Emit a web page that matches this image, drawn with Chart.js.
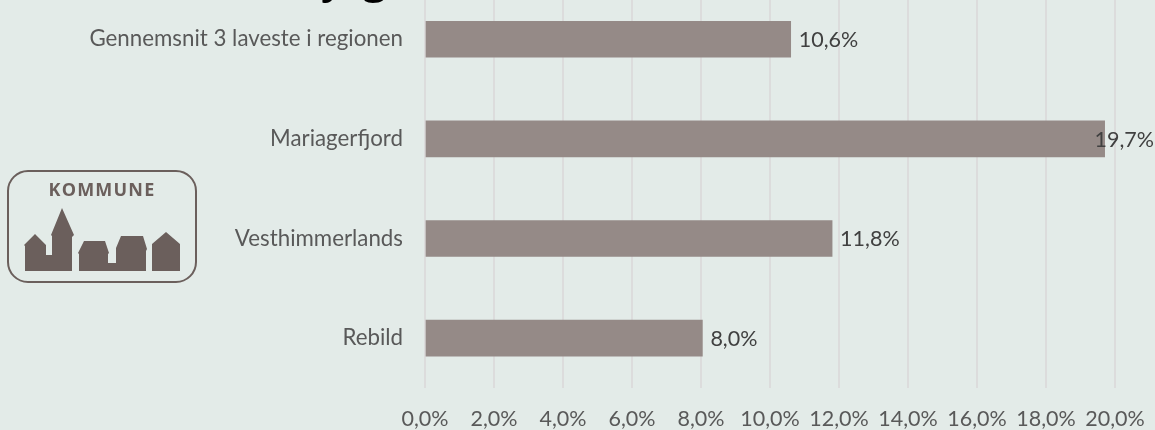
<!DOCTYPE html>
<html lang="da"><head><meta charset="utf-8">
<style>
html,body{margin:0;padding:0;width:1155px;height:430px;overflow:hidden;background:#e3ebe8}
#c{position:absolute;left:0;top:-46px;display:block}
#title{position:absolute;left:322px;top:-56px;font:46px "Open Sans",sans-serif;color:#000;white-space:pre;line-height:60px;letter-spacing:17px}
#logo{position:absolute;left:6px;top:169px}
</style></head><body>
<canvas id="c" width="1155" height="476"></canvas>
<div id="title">yg</div>
<svg id="logo" width="192" height="115" viewBox="6 169 192 115">
<rect x="8" y="171" width="188" height="111" rx="20" fill="none" stroke="#6b5f5c" stroke-width="2"/>
<text x="102" y="196" text-anchor="middle" font-family="Open Sans" font-weight="700" font-size="18" letter-spacing="1.2" fill="#6b5f5c">KOMMUNE</text>
<path fill="#6b5f5c" d="M25 271V246L24 245L35 234L46 245V255H52V236L51 235L62 208L74 235L72 237V271ZM79 271V254L78 253L84 241H105L109 253L108 254V263H116V249L116 248L121 236H143L147 249L146 251V271ZM152 271V244L166 232L180 244V271Z"/>
</svg>
<script src="https://cdn.jsdelivr.net/npm/chart.js@4"></script>
<script>
const categories = ["Gennemsnit 3 laveste i regionen","Mariagerfjord","Vesthimmerlands","Rebild"];
const values = [10.6,19.7,11.8,8.04];
const fmt = v => v.toFixed(1).replace(".",",")+"%";
const FONT = 'Lato,sans-serif';
const dataLabels = {
  id:"dataLabels",
  afterDatasetsDraw(chart){
    const {ctx,width} = chart;
    const meta = chart.getDatasetMeta(0);
    ctx.save();
    ctx.font = '21.5px '+FONT;
    ctx.fillStyle = "#404040";
    ctx.textBaseline = "middle";
    meta.data.forEach((bar,i)=>{
      const t = fmt(values[i]);
      const w = ctx.measureText(t).width;
      const x = Math.min(bar.x+8, width-w-1);
      ctx.fillText(t,x,bar.y+1);
    });
    ctx.restore();
  }
};
new Chart(document.getElementById("c"),{
  type:"bar",
  data:{labels:categories,datasets:[{data:values,backgroundColor:"#958a87",barThickness:36,borderWidth:0}]},
  plugins:[dataLabels],
  options:{
    indexAxis:"y",responsive:false,animation:false,
    layout:{padding:{left:0,right:40,top:0,bottom:0}},
    plugins:{legend:{display:false},tooltip:{enabled:false}},
    scales:{
      x:{min:0,max:20,
        grid:{color:"#dcdcdc",lineWidth:2,drawTicks:false},
        border:{display:false},
        afterFit(s){s.height=42;s.paddingLeft=0;s.paddingRight=0;},
        ticks:{stepSize:2,maxRotation:0,autoSkip:false,padding:18,color:"#595959",font:{family:FONT,size:21.5},callback:v=>fmt(v)}},
      y:{grid:{display:false,drawTicks:false},border:{display:false},
        afterFit(s){s.width=425;},
        ticks:{padding:22,color:"#595959",font:{family:FONT,size:22.3}}}
    }
  }
});
</script>
</body></html>
